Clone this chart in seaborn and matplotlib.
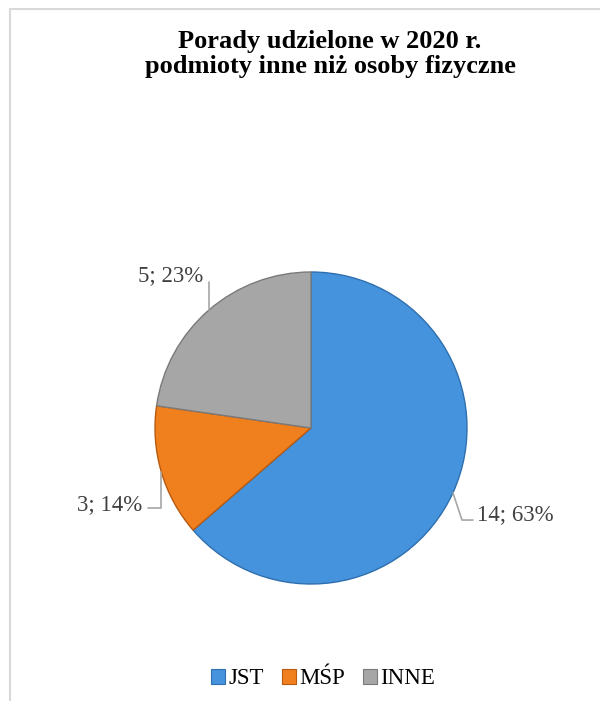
import numpy as np
import matplotlib
matplotlib.use("Agg")
import matplotlib.pyplot as plt
from matplotlib.lines import Line2D
from matplotlib.patches import Rectangle
import seaborn as sns

# ---- data ----
categories = ["JST", "MŚP", "INNE"]
values = [14, 3, 5]
percents = [63, 14, 23]
title_lines = ["Porady udzielone w 2020 r.", "podmioty inne niż osoby fizyczne"]
colors = ["#4592dd", "#f07f1d", "#a6a6a6"]
edge_colors = ["#2f6fae", "#b85a10", "#7a7a7a"]

sns.set_theme(style="white")
plt.rcParams["font.family"] = ["Liberation Serif", "DejaVu Serif"]

W, H = 600, 701
fig = plt.figure(figsize=(W / 100, H / 100), dpi=100)
fig.patch.set_facecolor("white")

# chart area border (top and left visible)
fig.add_artist(Line2D([10 / W, 1.0], [1 - 9 / H, 1 - 9 / H], color="#d9d9d9", lw=1.5,
                      transform=fig.transFigure))
fig.add_artist(Line2D([10 / W, 10 / W], [0, 1 - 9 / H], color="#d9d9d9", lw=1.5,
                      transform=fig.transFigure))

# title
fig.text(330 / W, 1 - 54 / H, "\n".join(title_lines), ha="center", va="center",
         fontsize=19, fontweight="bold", color="black", linespacing=1.12)

# pie
cx, cy, r = 311, 428, 156
ax = fig.add_axes([(cx - r) / W, (H - cy - r) / H, 2 * r / W, 2 * r / H])
wedges, _ = ax.pie(values, colors=colors, startangle=90, counterclock=False,
                   radius=1.0, wedgeprops=dict(linewidth=1.0))
for w, ec in zip(wedges, edge_colors):
    w.set_edgecolor(ec)
ax.set_xlim(-1, 1)
ax.set_ylim(-1, 1)
ax.set_aspect("equal")
ax.axis("off")

label_col = "#404040"
line_col = "#a6a6a6"
fs = 16.5

for i, (w, v, pct) in enumerate(zip(wedges, values, percents)):
    mid = np.deg2rad((w.theta1 + w.theta2) / 2)
    ax0, ay0 = np.cos(mid), np.sin(mid)
    txt = f"{v}; {pct}%"
    if i == 0:
        ex, ey = 0.968, -0.59
        ax.plot([ax0, ex, 1.038], [ay0, ey, ey], color=line_col, lw=1.2, clip_on=False)
        ax.text(1.063, -0.555, txt, ha="left", va="center", fontsize=fs, color=label_col)
    elif i == 1:
        ey = -0.513
        ax.plot([ax0, ax0, -1.045], [ay0, ey, ey], color=line_col, lw=1.2, clip_on=False)
        ax.text(-1.08, -0.49, txt, ha="right", va="center", fontsize=fs, color=label_col)
    else:
        ax.plot([ax0, ax0], [ay0, 0.936], color=line_col, lw=1.2, clip_on=False)
        ax.text(-0.69, 0.975, txt, ha="right", va="center", fontsize=fs, color=label_col)

# legend
handles = [Rectangle((0, 0), 1, 1, facecolor=c, edgecolor=e, lw=0.8)
           for c, e in zip(colors, edge_colors)]
fig.legend(handles, categories, loc="center", bbox_to_anchor=(323 / W, 1 - 679 / H),
           ncol=3, frameon=False, fontsize=fs, handlelength=0.6, handleheight=0.6,
           handletextpad=0.15, columnspacing=0.8, labelcolor="black")

fig.savefig("out.png", dpi=100, facecolor="white")
